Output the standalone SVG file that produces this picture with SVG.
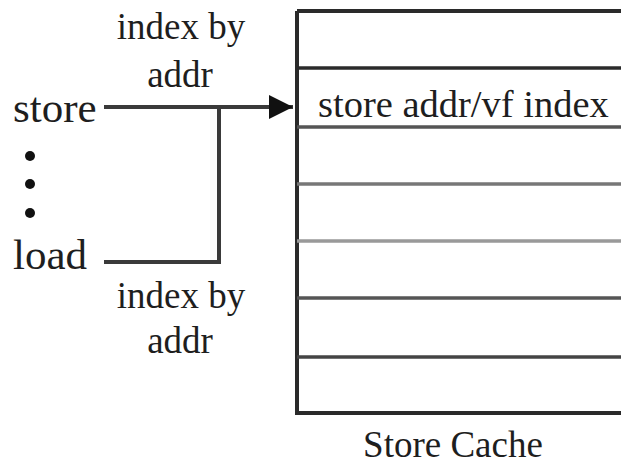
<svg xmlns="http://www.w3.org/2000/svg" width="621" height="465" viewBox="0 0 621 465">
<style>
text{font-family:'Liberation Serif','DejaVu Serif','Noto Serif',serif;fill:#1e1e1e}
.big{font-size:43px}
.lbl{font-size:37px;text-anchor:middle}
.conn{stroke:#3a3a3a;stroke-width:4;fill:none}
.row{stroke-width:3.5;fill:none}
</style>
<defs>
<marker id="arr" markerWidth="26" markerHeight="26" refX="24" refY="13" orient="auto" markerUnits="userSpaceOnUse">
<path d="M0,1 L24,13 L0,25 Z" fill="#111"/>
</marker>
</defs>
<g id="store-label"><text class="big" x="13" y="122">store</text></g>
<g id="dots">
<circle cx="30" cy="156" r="5" fill="#111"/>
<circle cx="30" cy="184" r="5" fill="#111"/>
<circle cx="30" cy="213" r="5" fill="#111"/>
</g>
<g id="load-label"><text class="big" x="13" y="269">load</text></g>
<g id="label-top"><text class="lbl" x="181" y="39">index by</text><text class="lbl" x="180" y="87">addr</text></g>
<g id="label-bottom"><text class="lbl" x="181" y="308">index by</text><text class="lbl" x="180" y="353">addr</text></g>
<g id="connectors">
<path class="conn" d="M104,107 H293" marker-end="url(#arr)"/>
<path class="conn" d="M104,262 H219 V107"/>
</g>
<g id="store-cache">
<path d="M297,11 H625 M297,11 V413 H625" stroke="#2a2a2a" stroke-width="4" fill="none"/>
<line class="row" x1="297" y1="68" x2="625" y2="68" stroke="#2a2a2a"/>
<line class="row" x1="297" y1="127" x2="625" y2="127" stroke="#555"/>
<line class="row" x1="297" y1="184" x2="625" y2="184" stroke="#777"/>
<line class="row" x1="297" y1="241" x2="625" y2="241" stroke="#999"/>
<line class="row" x1="297" y1="298" x2="625" y2="298" stroke="#555"/>
<line class="row" x1="297" y1="357" x2="625" y2="357" stroke="#444"/>
<text x="318" y="117" style="font-size:38.5px">store addr/vf index</text>
<text class="lbl" x="453" y="457">Store Cache</text>
</g>
</svg>
